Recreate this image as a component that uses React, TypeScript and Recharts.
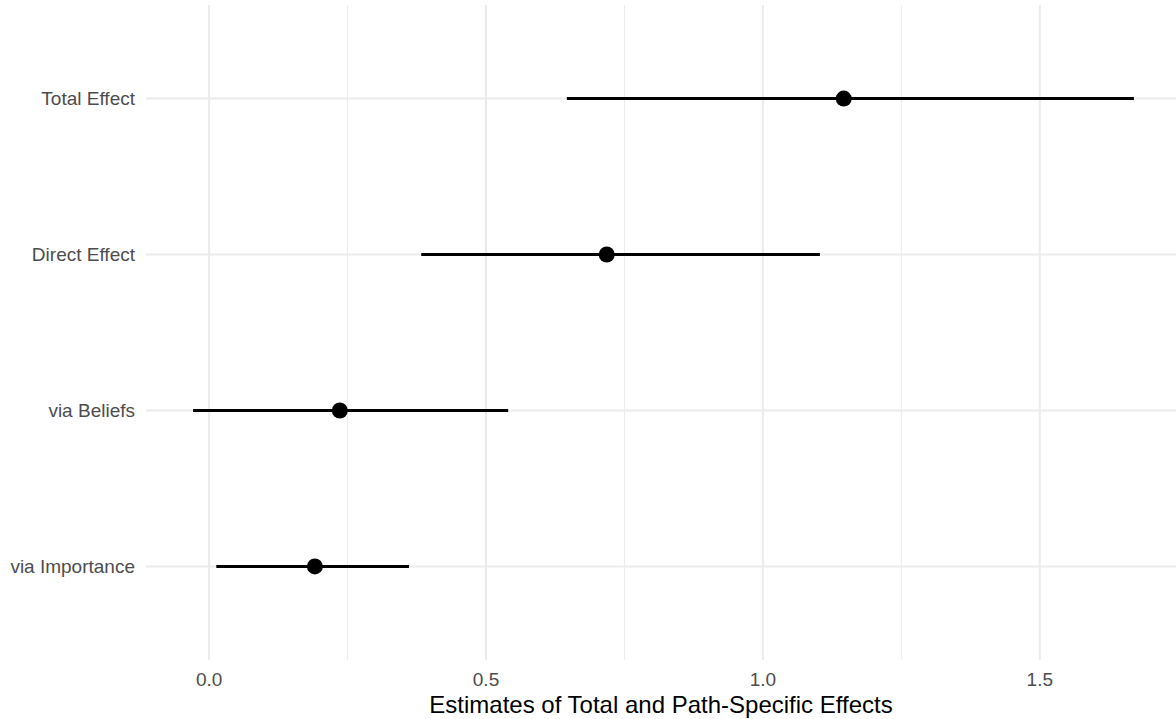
import {
    ScatterChart,
    Scatter,
    XAxis,
    YAxis,
    ErrorBar,
    ReferenceLine,
    Label,
} from "recharts";

// rows from bottom to top, like the factor levels in the plot
const effects = ["via Importance", "via Beliefs", "Direct Effect", "Total Effect"];
const estimates = [0.191, 0.236, 0.718, 1.146];
const lower = [0.013, -0.029, 0.383, 0.646];
const upper = [0.361, 0.540, 1.103, 1.670];

const rows = [1, 2, 3, 4];
const xTicks = [0, 0.5, 1, 1.5];
const xMinor = [0.25, 0.75, 1.25];

const data = effects.map((name, i) => ({
    name,
    row: rows[i],
    est: estimates[i],
    err: [estimates[i] - lower[i], upper[i] - estimates[i]],
}));

const font = "'Liberation Sans', Arial, sans-serif";

const Dot = (props: any) => (
    <circle cx={props.cx} cy={props.cy} r={8} fill="#000000" />
);

export default function App() {
    return (
        <div style={{ position: "absolute", left: 0, top: 0, background: "#fff" }}>
            <ScatterChart
                width={1176}
                height={719}
                margin={{ top: 5, right: 0, bottom: 0, left: 0 }}
                style={{ fontFamily: font }}
            >
                {/* grid drawn by hand so there is no border round the panel */}
                {xMinor.map((v) => (
                    <ReferenceLine key={"m" + v} x={v} stroke="#EBEBEB" strokeWidth={1} />
                ))}
                {xTicks.map((v) => (
                    <ReferenceLine key={"x" + v} x={v} stroke="#EBEBEB" strokeWidth={2} />
                ))}
                {rows.map((v) => (
                    <ReferenceLine key={"y" + v} y={v} stroke="#EBEBEB" strokeWidth={2} />
                ))}
                <XAxis
                    type="number"
                    dataKey="est"
                    domain={[-0.114, 1.746]}
                    ticks={xTicks}
                    tickFormatter={(v: number) => v.toFixed(1)}
                    allowDataOverflow
                    axisLine={false}
                    tickLine={false}
                    tickMargin={7}
                    height={59}
                    tick={{ fill: "#4D4D4D", fontSize: 19, fontFamily: font }}
                >
                    <Label
                        value="Estimates of Total and Path-Specific Effects"
                        position="insideBottom"
                        offset={6}
                        style={{ fill: "#000000", fontSize: 24, fontFamily: font }}
                    />
                </XAxis>
                <YAxis
                    type="number"
                    dataKey="row"
                    domain={[0.4, 4.6]}
                    ticks={rows}
                    tickFormatter={(v: number) => effects[v - 1]}
                    axisLine={false}
                    tickLine={false}
                    tickMargin={5}
                    width={146}
                    tick={{ fill: "#4D4D4D", fontSize: 19, fontFamily: font }}
                />
                <Scatter data={data} shape={Dot} isAnimationActive={false}>
                    <ErrorBar
                        dataKey="err"
                        direction="x"
                        width={0}
                        stroke="#000000"
                        strokeWidth={3}
                        isAnimationActive={false}
                    />
                </Scatter>
            </ScatterChart>
        </div>
    );
}
